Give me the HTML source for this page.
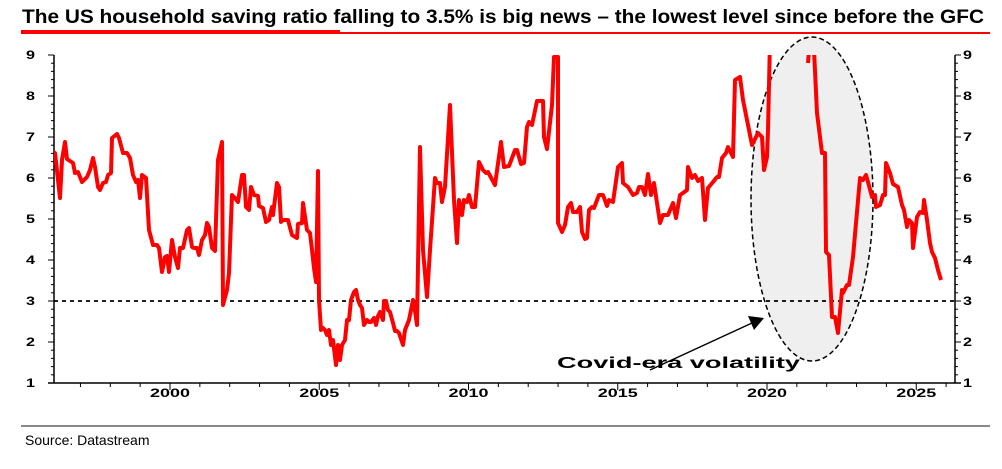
<!DOCTYPE html>
<html><head><style>
body{margin:0;background:#fff;width:1002px;height:464px;overflow:hidden;font-family:"Liberation Sans",sans-serif}
</style></head><body>
<svg width="1002" height="464" xmlns="http://www.w3.org/2000/svg">
<text x="22" y="23" font-family="Liberation Sans, sans-serif" font-weight="bold" font-size="19.5" fill="#000" textLength="962" lengthAdjust="spacingAndGlyphs">The US household saving ratio falling to 3.5% is big news – the lowest level since before the GFC</text>
<rect x="21" y="30" width="319" height="4" fill="#f00"/>
<rect x="340" y="32" width="650" height="2" fill="#f00"/>
<rect x="21" y="425" width="969" height="2" fill="#888"/>
<text x="25" y="445" font-size="14" fill="#000">Source: Datastream</text>
<ellipse cx="812" cy="199" rx="61" ry="162" fill="#efefef" stroke="#000" stroke-width="1.5" stroke-dasharray="5,3"/>
<line x1="54" y1="301" x2="955" y2="301" stroke="#000" stroke-width="1.8" stroke-dasharray="4,4"/>
<g id="ax" stroke="#000" stroke-width="1.5">
<line x1="54" y1="55" x2="54" y2="383"/><line x1="955" y1="55" x2="955" y2="383"/><line x1="48" y1="383" x2="961" y2="383"/>
</g>
<g stroke="#000" stroke-width="1" id="ticks"></g>
<g font-size="12" font-weight="bold" fill="#000" id="lab"></g>
<defs><clipPath id="c"><rect x="54" y="55" width="901" height="328"/></clipPath></defs>
<polyline clip-path="url(#c)" fill="none" stroke="#f00" stroke-width="4" stroke-linejoin="round" points="54,154 55,153 60,198 62,160 65,142 67,159 73,163 75,173 78,172 82,182 87,177 90,170 93,158 95,167 98,187 100,190 103,183 106,182 108,175 111,173 112,138 117,134 119,138 123,153 127,153 130,158 133,175 136,182 138,180 140,198 142,175 146,178 149,230 153,245 157,245 159,248 162,272 165,257 167,256 169,272 172,240 175,257 178,268 180,248 183,248 187,230 189,228 192,247 194,248 197,248 199,255 202,240 205,235 207,223 209,227 212,248 215,251 218,160 222,142 223,305 227,290 229,273 232,195 235,198 238,202 242,175 244,175 246,207 249,210 251,187 254,195 258,196 259,206 263,208 266,222 269,220 272,207 273,215 277,183 279,187 281,222 283,220 288,220 292,235 295,237 297,238 298,224 302,223 303,203 307,230 310,233 312,250 314,268 316,282 318,171 319,300 321,330 323,328 325,330 327,335 329,330 331,345 333,340 336,365 338,345 340,360 342,345 345,340 347,320 349,320 351,300 354,292 356,290 358,300 360,305 362,308 364,325 367,320 369,322 371,322 374,318 376,325 378,316 380,312 383,320 384,301 386,301 388,310 390,312 393,323 395,331 397,331 399,333 403,345 405,330 409,320 413,300 415,311 417,325 420,147 423,250 427,297 430,250 435,178 437,183 440,183 442,202 445,187 450,105 454,200 457,243 459,200 462,215 464,200 467,202 469,195 472,207 475,207 479,162 483,170 486,173 488,172 495,185 501,142 504,167 509,166 515,150 517,150 521,164 524,163 527,127 529,122 532,125 537,101 543,101 544,137 547,149 552,105 554,57 558,57 558,223 562,232 565,225 568,207 571,203 573,212 577,212 580,207 582,232 585,239 587,238 589,210 592,207 594,208 599,195 603,195 607,206 609,200 613,202 618,167 622,163 623,183 628,187 633,195 637,193 639,187 642,187 645,195 648,174 651,195 654,183 660,223 663,215 668,215 673,203 676,218 680,195 683,193 687,190 688,167 692,178 695,175 698,181 702,178 705,220 708,188 713,182 717,177 719,177 722,158 726,153 728,147 733,157 735,80 740,77 743,100 748,125 752,145 758,133 762,137 764,170 767,157 768,130 770,40"/>
<polyline clip-path="url(#c)" fill="none" stroke="#f00" stroke-width="4" stroke-linejoin="round" points="808,63 809,50 814,50 817,113 822,153 825,153 826,252 829,255 832,317 835,317 838,333 842,290 843,293 847,285 849,285 853,257 860,178 863,180 866,175 868,182 872,197 875,195 876,207 880,205 883,195 885,195 886,163 890,173 893,184 898,187 902,205 904,210 907,227 909,220 912,223 913,248 917,217 920,212 923,213 924,200 927,220 930,243 932,252 935,258 938,270 941,280"/>
<line x1="650" y1="370" x2="752" y2="323" stroke="#000" stroke-width="1.5"/>
<polygon points="764,318 748,316 754,330" fill="#000"/>
<text x="557" y="368" font-size="16" font-weight="bold" textLength="243" lengthAdjust="spacingAndGlyphs">Covid-era volatility</text>
</svg>
<script>
var t=document.getElementById('ticks'),l=document.getElementById('lab'),ns='http://www.w3.org/2000/svg';
function ln(a,b,c,d){var e=document.createElementNS(ns,'line');e.setAttribute('x1',a);e.setAttribute('y1',b);e.setAttribute('x2',c);e.setAttribute('y2',d);t.appendChild(e);}
function tx(x,y,s,a,w){var e=document.createElementNS(ns,'text');e.setAttribute('x',x);e.setAttribute('y',y);e.setAttribute('text-anchor',a);if(w){e.setAttribute('textLength',w);e.setAttribute('lengthAdjust','spacingAndGlyphs');}e.textContent=s;l.appendChild(e);}
for(var i=0;i<=40;i++){var y=383-i*41/5,m=i%5==0;ln(54-(m?6:3),y,54,y);ln(955,y,955+(m?6:3),y);
if(m){tx(35,y+4,String(1+i/5),'end',9);tx(963,y+4,String(1+i/5),'start',9);}}
for(var yr=1997;yr<=2026;yr++){var x=170+(yr-2000)*29.85;ln(x,383,x,yr%5==0?390:387);if(yr%5==0)tx(x,397,String(yr),'middle',40);}
</script>
</body></html>
